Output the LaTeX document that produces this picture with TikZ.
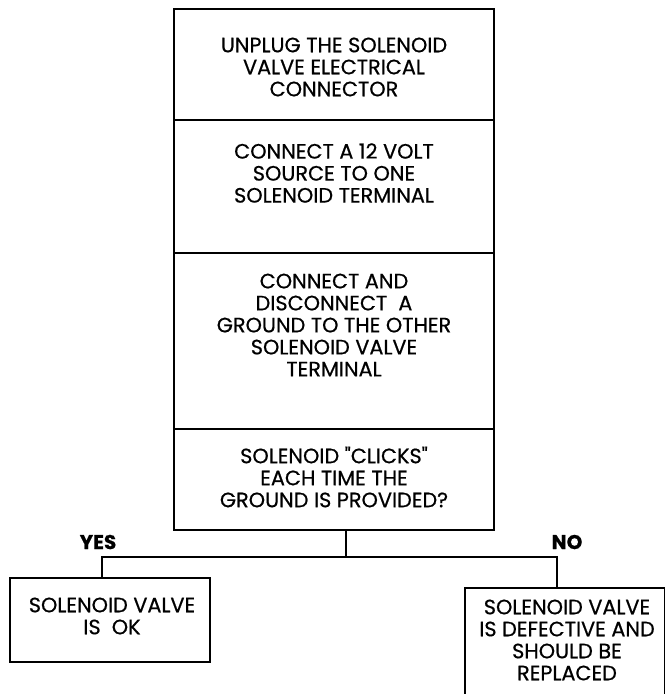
\documentclass[tikz,border=0pt]{standalone}
\usepackage{fontspec}
\setmainfont{Poppins}[FakeBold=0.6]
\begin{document}
\begin{tikzpicture}[x=0.75pt,y=-0.75pt,
 frame/.style={draw,line width=1.4pt,minimum width=240pt,inner sep=0pt},
 caption/.style={align=center,font=\fontsize{15.6}{16.5}\selectfont,inner sep=0pt},
 answer/.style={font=\bfseries\fontsize{15}{16}\selectfont,inner sep=0pt}]
\clip (0,0) rectangle (665,694);
% main column of steps
\node[frame,minimum height=83.25pt] (unplug) at (334,64.5) {};
\node[frame,minimum height=99.75pt] (source) at (334,186.5) {};
\node[frame,minimum height=132pt] (ground) at (334,341) {};
\node[frame,minimum height=75.75pt] (clicks) at (334,479.5) {};
\node[caption] (unplugtxt) at (334,67) {UNPLUG THE SOLENOID\\VALVE ELECTRICAL\\CONNECTOR};
\node[caption] (sourcetxt) at (334,173) {CONNECT A 12 VOLT\\SOURCE TO ONE\\SOLENOID TERMINAL};
\node[caption] (groundtxt) at (334,325) {CONNECT AND\\DISCONNECT \ A\\GROUND TO THE OTHER\\SOLENOID VALVE\\TERMINAL};
\node[caption] (clickstxt) at (334,477) {SOLENOID \textquotedbl CLICKS\textquotedbl\\EACH TIME THE\\GROUND IS PROVIDED?};
% results
\node[frame,minimum width=150pt,minimum height=63pt] (ok) at (110,620) {};
\node[caption] (oktxt) at (112,616) {SOLENOID VALVE\\IS \ OK};
\node[frame,minimum width=150pt,minimum height=120pt] (bad) at (565,668) {};
\node[caption] (badtxt) at (567,640) {SOLENOID VALVE\\IS DEFECTIVE AND\\SHOULD BE\\REPLACED};
\node[answer] (yes) at (98,542) {YES};
\node[answer] (no) at (567,542) {NO};
\coordinate (split) at (346,557);
\draw[line width=1pt] (clicks.south -| split) -- (split)
 ([xshift=-6pt]ok.north) |- (split) -| ([xshift=-6pt]bad.north);
\end{tikzpicture}
\end{document}
